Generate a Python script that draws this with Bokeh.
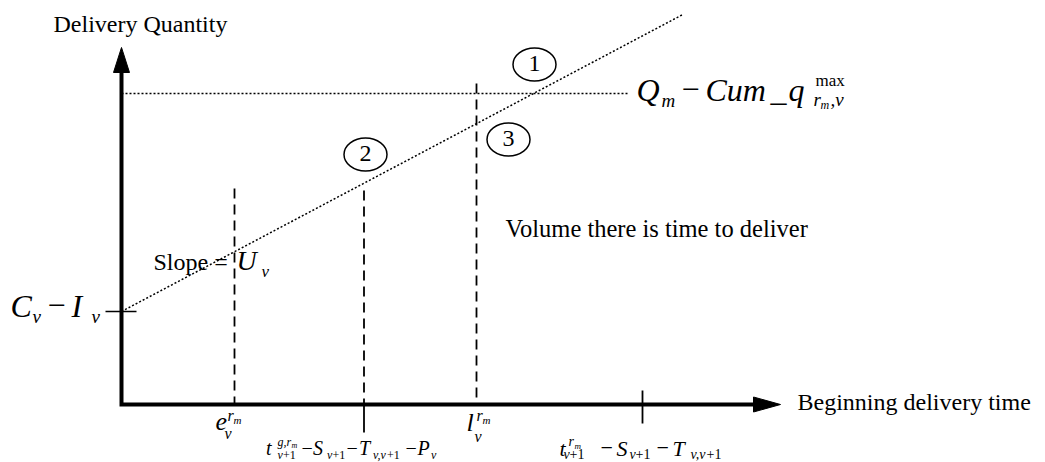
from bokeh.plotting import figure
from bokeh.models import Range1d
from bokeh.core.properties import value
from bokeh.embed import file_html
from bokeh.resources import INLINE

SERIF = "'Liberation Serif', 'Times New Roman', serif"

# ---------------- data (diagram units) ----------------
# positions on the time axis: e_v, t^{g,r_m}-..., l_v, t^{r_m}-...
time_names = ["e_v", "t_g", "l_v", "t_r"]
time_points = [11.3, 24.25, 35.5, 52.1]
# top of the dashed guide lines above e_v, t_g, l_v
guide_tops = [21.6, 21.4, 32.1]

start_qty = 9.3          # C_v - I_v
cap_qty = 31.1           # Q_m - Cum_q^max
cap_end = 50.6           # horizontal extent of the cap line
line_x = [0.0, 56.1]     # delivery line with slope U_v
line_y = [9.3, 38.98]

x_axis_end = 65.9
y_axis_end = 35.7

circle_names = ["1", "2", "3"]
circle_x = [41.3, 24.4, 38.7]
circle_y = [34.0, 25.0, 26.5]

# ---------------- figure ----------------
p = figure(width=1045, height=462,
           x_range=Range1d(-12.1, 92.4), y_range=Range1d(-5.8, 40.4),
           x_axis_location=None, y_axis_location=None,
           toolbar_location=None, output_backend="svg",
           min_border=0, outline_line_color=None,
           background_fill_color="white", border_fill_color="white")
p.grid.visible = False

# axes with arrowheads
head_len_x, head_half_x = 2.7, 0.75
head_len_y, head_half_y = 2.5, 0.8
p.line(x=[0, 0, x_axis_end - head_len_x], y=[y_axis_end - head_len_y, 0, 0],
       line_width=4, line_color="black", line_join="miter", line_cap="butt")
p.patch(x=[x_axis_end - head_len_x, x_axis_end, x_axis_end - head_len_x],
        y=[head_half_x, 0, -head_half_x], fill_color="black", line_color="black")
p.patch(x=[-head_half_y, 0, head_half_y],
        y=[y_axis_end - head_len_y, y_axis_end, y_axis_end - head_len_y],
        fill_color="black", line_color="black")

# C_v - I_v tick on the vertical axis
p.line(x=[-1.6, 1.5], y=[start_qty, start_qty], line_width=1.5, line_color="black")

# dotted delivery line and cap line
p.line(x=line_x, y=line_y, line_width=1.5, line_color="black", line_dash="2 2")
p.line(x=[0, cap_end], y=[cap_qty, cap_qty], line_width=1.5, line_color="black",
       line_dash="2 2")

# dashed guides
p.segment(x0=time_points[:3], y0=guide_tops, x1=time_points[:3], y1=[0, 0, 0],
          line_width=1.8, line_color="black", line_dash="10 6")
# solid ticks below / across the time axis
p.segment(x0=[time_points[1], time_points[3]], y0=[0, 1.4],
          x1=[time_points[1], time_points[3]], y1=[-2.8, -1.9],
          line_width=1.8, line_color="black")

# numbered circles
p.ellipse(x=circle_x, y=circle_y, width=4.3, height=3.3, fill_color=None,
          line_color="black", line_width=1.5)

K = 0.37  # baseline correction (fraction of font size)
p.text(x=circle_x, y=circle_y, text=circle_names, y_offset=8 - K * 24,
       text_font=value(SERIF), text_font_size="24px", text_color="black",
       text_align="center", text_baseline="alphabetic")


def put(pieces, ax, ay):
    for txt, size, style, dx, dy in pieces:
        p.text(x=[ax], y=[ay], text=[txt], x_offset=dx, y_offset=dy - K * size,
               text_font=value(SERIF), text_font_size=f"{size}px",
               text_font_style=style, text_color="black",
               text_align="left", text_baseline="alphabetic")


I, N = "italic", "normal"

# axis titles and note
put([("Delivery Quantity", 24, N, -68, -15)], 0, y_axis_end)
put([("Beginning delivery time", 24, N, 17, 6)], x_axis_end, 0)
put([("Volume there is time to deliver", 24.5, N, 0, 0)], 38.4, 16.7)

# C_v - I_v
put([("C", 32, I, -111, 6), ("v", 19, I, -89, 12), ("\u2212", 32, N, -74, 6),
     ("I", 32, I, -50, 6), ("v", 19, I, -30, 12)], 0, start_qty)

# Slope = U_v
put([("Slope =", 24, N, 32, -41), ("U", 28, I, 115, -41), ("v", 17, I, 140, -34)],
    0, start_qty)

# Q_m - Cum_q^max_{r_m,v}
put([("Q", 32, I, 9, 8), ("m", 19, I, 34, 14), ("\u2212", 32, N, 54, 8),
     ("Cum", 32, I, 78, 8), ("_", 32, I, 143, 8), ("q", 32, I, 161, 8),
     ("max", 17, N, 188, -7), ("r", 19, I, 186, 13), ("m", 12, I, 193, 16),
     (",v", 19, I, 203, 13)], cap_end, cap_qty)

# e_v^{r_m}
put([("e", 26, I, -19, 27), ("v", 16, I, -10, 35), ("r", 16, I, -7, 17),
     ("m", 11, I, -1, 20)], time_points[0], 0)

# l_v^{r_m}
put([("l", 26, I, -10, 28), ("v", 16, I, -2, 38), ("r", 16, I, 0, 17),
     ("m", 11, I, 6, 20)], time_points[2], 0)

# t_{v+1}^{g,r_m} - S_{v+1} - T_{v,v+1} - P_v
put([("t", 20, I, -98, 51), ("g,r", 12, I, -86.5, 42), ("m", 8, I, -72.5, 44),
     ("v", 12, I, -86.5, 55), ("+1", 12, N, -81, 55),
     ("\u2212", 20, N, -62.5, 51), ("S", 20, I, -51, 51),
     ("v", 12, I, -37, 55), ("+1", 12, N, -31.5, 55),
     ("\u2212", 20, N, -17.5, 51), ("T", 20, I, -5, 51),
     ("v,v", 12, I, 9, 55), ("+1", 12, N, 23, 55),
     ("\u2212", 20, N, 41.5, 51), ("P", 20, I, 53.5, 51), ("v", 12, I, 67, 55)],
    time_points[1], 0)

# t_{v+1}^{r_m} - S_{v+1} - T_{v,v+1}
put([("t", 22, I, -83, 52), ("r", 14, I, -74, 42), ("m", 9, I, -68, 45),
     ("v", 14, I, -79, 55), ("+1", 14, N, -73, 55),
     ("\u2212", 22, N, -42, 52), ("S", 22, I, -26, 52),
     ("v", 14, I, -13, 55), ("+1", 14, N, -7, 55),
     ("\u2212", 22, N, 14, 52), ("T", 22, I, 30, 52),
     ("v,v", 14, I, 48, 55), ("+1", 14, N, 64, 55)],
    time_points[3], 0)

open("out.html", "w").write(file_html(p, INLINE))
